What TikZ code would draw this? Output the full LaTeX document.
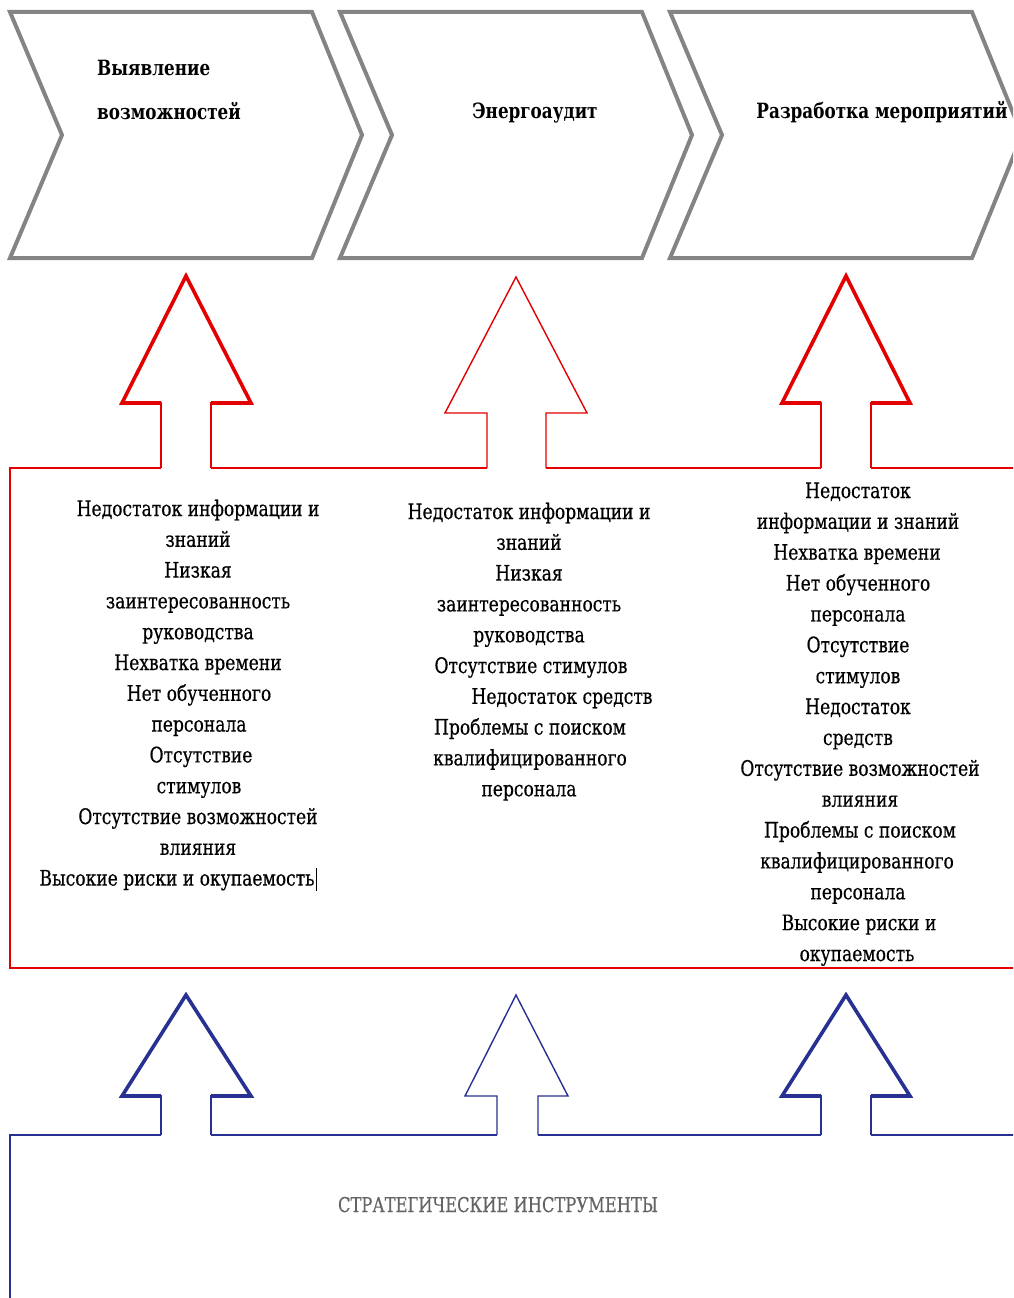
\documentclass[tikz,border=0pt]{standalone}
\usepackage{fontspec}
\setmainfont{DejaVu Serif}[FakeStretch=0.8]
\newfontfamily\bodyfont{DejaVu Serif}[FakeStretch=0.8,FakeBold=0.4]
\definecolor{chevgray}{RGB}{132,132,132}
\definecolor{myred}{RGB}{226,0,0}
\definecolor{myblue}{RGB}{40,48,145}
\definecolor{txtgray}{RGB}{100,100,100}
\begin{document}
\begin{tikzpicture}[x=1pt,y=-1pt,
  chev/.style={draw=chevgray,line width=4pt,line join=miter},
  headthick/.style={line width=3.6pt,line join=miter},
  shaftline/.style={line width=2.2pt},
  thinarrow/.style={line width=1.4pt,line join=miter},
  frame/.style={line width=2pt},
  body/.style={inner sep=0pt,anchor=base,font=\bodyfont\fontsize{21.4}{25}\selectfont},
  head/.style={inner sep=0pt,anchor=base,font=\bfseries\fontsize{21}{25}\selectfont},
  bottomtxt/.style={inner sep=0pt,anchor=base,text=txtgray,font=\bodyfont\fontsize{20.4}{24}\selectfont}]
\useasboundingbox (0,0) rectangle (1013,1298);
\clip (0,0) rectangle (1013,1298);

% chevrons
\foreach \dx in {0,330,660}{
  \draw[chev] (10+\dx,12) -- (312+\dx,12) -- (362+\dx,135) -- (312+\dx,258) -- (10+\dx,258) -- (62+\dx,135) -- cycle;
}
\node[head,anchor=base west] (h1a) at (97,75) {Выявление};
\node[head,anchor=base west] (h1b) at (97,119) {возможностей};
\node[head] (h2) at (535,118) {Энергоаудит};
\node[head] (h3) at (882,118) {Разработка мероприятий};

% red arrows and frame
\draw[headthick,myred] (161,403) -- (122,403) -- (186,276) -- (251,403) -- (211,403);
\draw[shaftline,myred] (161,402) -- (161,468) (211,402) -- (211,468);
\draw[thinarrow,myred] (487,468) -- (487,413) -- (445,413) -- (516,277) -- (587,413) -- (546,413) -- (546,468);
\draw[headthick,myred] (821,403) -- (782,403) -- (846,276) -- (910,403) -- (871,403);
\draw[shaftline,myred] (821,402) -- (821,468) (871,402) -- (871,468);
\draw[frame,myred] (161,468) -- (10,468) -- (10,968) -- (1030,968) -- (1030,468) -- (871,468);
\draw[frame,myred] (821,468) -- (546,468);
\draw[frame,myred] (487,468) -- (211,468);

% blue arrows and frame
\draw[headthick,myblue] (161,1096) -- (122,1096) -- (186,995) -- (251,1096) -- (211,1096);
\draw[shaftline,myblue] (161,1095) -- (161,1135) (211,1095) -- (211,1135);
\draw[thinarrow,myblue] (497,1135) -- (497,1096) -- (465,1096) -- (516,995) -- (568,1096) -- (538,1096) -- (538,1135);
\draw[headthick,myblue] (821,1096) -- (782,1096) -- (846,995) -- (910,1096) -- (871,1096);
\draw[shaftline,myblue] (821,1095) -- (821,1135) (871,1095) -- (871,1135);
\draw[frame,myblue] (161,1135) -- (10,1135) -- (10,1310);
\draw[frame,myblue] (211,1135) -- (497,1135);
\draw[frame,myblue] (538,1135) -- (821,1135);
\draw[frame,myblue] (871,1135) -- (1030,1135);

% column 1
\foreach \x/\t [count=\i] in {198/Недостаток информации и, 198/знаний, 198/Низкая,
  198/заинтересованность, 198/руководства, 198/Нехватка времени, 199/Нет обученного,
  199/персонала, 201/Отсутствие, 199/стимулов, 198/Отсутствие возможностей,
  198/влияния, 177/Высокие риски и окупаемость}{
  \node[body] (a\i) at (\x,{516+30.8*(\i-1)}) {\t};
}
\draw[line width=1pt] ([xshift=2pt,yshift=-5pt]a13.base east) -- ([xshift=2pt,yshift=18pt]a13.base east);

% column 2
\foreach \x/\t [count=\i] in {529/Недостаток информации и, 529/знаний, 529/Низкая,
  529/заинтересованность, 529/руководства, 531/Отсутствие стимулов, 562/Недостаток средств,
  530/Проблемы с поиском, 530/квалифицированного, 529/персонала}{
  \node[body] (b\i) at (\x,{519+30.8*(\i-1)}) {\t};
}

% column 3
\foreach \x/\t [count=\i] in {858/Недостаток, 858/информации и знаний, 857/Нехватка времени,
  858/Нет обученного, 858/персонала, 858/Отсутствие, 858/стимулов, 858/Недостаток,
  858/средств, 860/Отсутствие возможностей, 860/влияния, 860/Проблемы с поиском,
  857/квалифицированного, 858/персонала, 859/Высокие риски и, 857/окупаемость}{
  \node[body] (c\i) at (\x,{498+30.87*(\i-1)}) {\t};
}

\node[bottomtxt] (st) at (498,1212) {СТРАТЕГИЧЕСКИЕ ИНСТРУМЕНТЫ};
\end{tikzpicture}
\end{document}
